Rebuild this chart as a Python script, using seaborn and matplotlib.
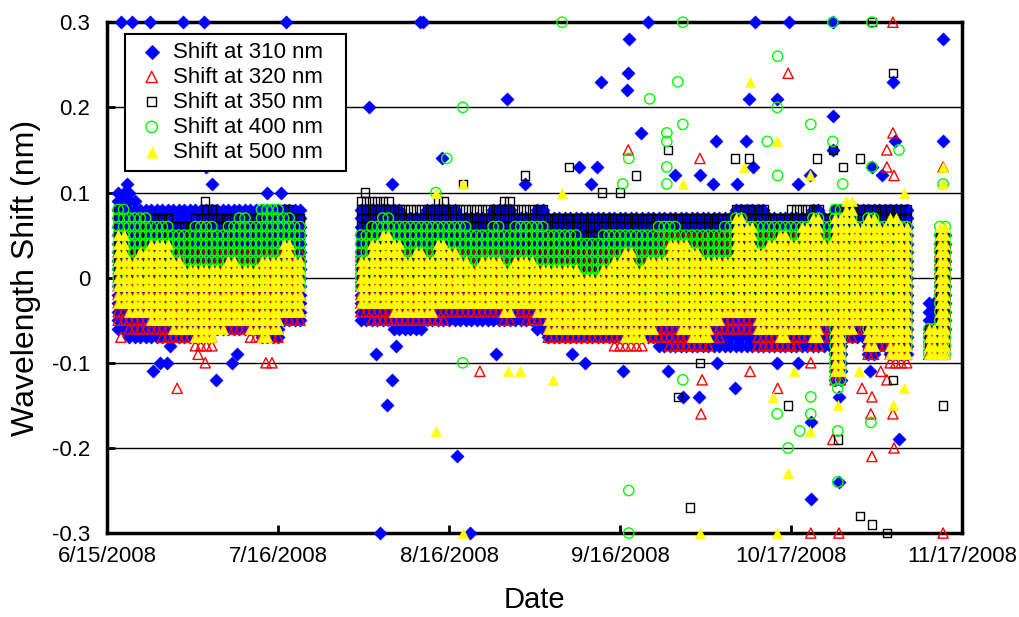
import numpy as np
import pandas as pd
import matplotlib
matplotlib.use('Agg')
import matplotlib.pyplot as plt
import seaborn as sns

# --- data (values in hundredths of nm for the dense bands) ---
start_date = '6/15/2008'
x_labels = ['6/15/2008', '7/16/2008', '8/16/2008', '9/16/2008', '10/17/2008', '11/17/2008']
y_labels = ['-0.3', '-0.2', '-0.1', '0', '0.1', '0.2', '0.3']

# start day (days after 6/15/2008) of each two-day bin of readings
bin_days = [2, 4, 6, 8, 10, 12, 14, 16, 18, 20, 22, 24, 26, 28, 30, 32, 34,
            46, 48, 50, 52, 54, 56, 58, 60, 62, 64, 66, 68, 70, 72, 74, 76, 78,
            80, 82, 84, 86, 88, 90, 92, 94, 96, 98,
            100, 102, 104, 106, 108, 110, 112, 114, 116, 118, 120, 122, 124, 126, 128, 130,
            132, 134, 136, 138, 140, 142, 144,
            149, 151]

# Shift at 310 nm
blue_hi = [10, 9, 8, 8, 8, 8, 8, 8, 8, 8, 8, 8, 8, 8, 8, 8, 8,
           8, 8, 8, 8, 7, 7, 8, 8, 8, 7, 7, 7, 8, 8, 7, 7, 8,
           7, 7, 7, 7, 7, 7, 7, 7, 7, 7,
           7, 7, 7, 7, 7, 7, 7, 8, 8, 8, 7, 7, 7, 7, 8, 7,
           8, 8, 8, 8, 8, 8, 8,
           -3, 5]
blue_lo = [-6, -7, -7, -7, -7, -7, -7, -7, -6, -6, -6, -6, -6, -7, -7, -5, -5,
           -5, -5, -5, -6, -6, -6, -5, -5, -5, -5, -5, -5, -5, -5, -5, -5, -6,
           -7, -7, -7, -7, -7, -7, -7, -7, -7, -7,
           -8, -8, -8, -8, -8, -8, -8, -8, -8, -8, -8, -8, -8, -8, -8, -8,
           -12, -7, -7, -9, -8, -9, -9,
           -7, -6]
blue_extra = [(2.5, 0.30), (4.5, 0.30), (7.8, 0.30), (13.8, 0.30), (17.6, 0.30), (32.5, 0.30),
              (56.8, 0.30), (57.3, 0.30), (98.1, 0.30), (117.5, 0.30), (123.6, 0.30), (131.6, 0.30),
              (151.6, 0.28), (47.5, 0.20), (72.5, 0.21), (94.6, 0.28), (94.5, 0.24), (89.6, 0.23),
              (94.3, 0.22), (96.8, 0.17), (60.7, 0.14), (85.6, 0.13), (88.8, 0.13), (51.7, 0.11),
              (87.7, 0.11), (75.8, 0.11), (116.4, 0.21), (121.5, 0.21), (131.6, 0.19), (110.4, 0.16),
              (115.8, 0.16), (142.9, 0.16), (151.6, 0.16), (142.5, 0.23), (131.6, 0.15), (138.7, 0.13),
              (140.5, 0.12), (103.0, 0.12), (107.5, 0.12), (109.9, 0.11), (114.2, 0.11), (117.1, 0.13),
              (125.3, 0.11), (127.4, 0.12), (3.6, 0.11), (3.9, 0.10), (18.0, 0.13), (19.0, 0.11),
              (29.0, 0.10), (31.5, 0.10), (8.3, -0.11), (9.6, -0.10), (10.9, -0.10), (11.4, -0.08),
              (19.8, -0.12), (22.7, -0.10), (23.6, -0.09), (48.8, -0.09), (51.7, -0.12), (50.8, -0.15),
              (63.5, -0.21), (49.5, -0.30), (65.8, -0.30), (70.5, -0.09), (84.3, -0.09), (86.7, -0.10),
              (93.5, -0.11), (101.7, -0.11), (104.4, -0.14), (107.3, -0.14), (110.6, -0.10),
              (113.9, -0.13), (121.5, -0.10), (125.3, -0.10), (127.6, -0.17), (132.7, -0.14),
              (132.7, -0.24), (127.6, -0.26), (143.6, -0.19), (138.3, -0.11), (52.4, -0.08)]

# Shift at 320 nm
red_hi = [3] * 17 + [3] * 17 + [3] * 10 + [5] * 16 + [5] * 7 + [-6, 4]
red_lo = [-5, -6, -6, -6, -7, -7, -7, -8, -8, -6, -6, -6, -7, -7, -7, -5, -5,
          -4, -5, -5, -5, -5, -5, -5, -5, -4, -4, -4, -4, -4, -5, -4, -5, -5,
          -7, -7, -7, -7, -7, -7, -8, -8, -8, -7,
          -7, -8, -8, -8, -8, -7, -6, -6, -6, -8, -8, -8, -8, -7, -8, -7,
          -12, -7, -6, -9, -8, -10, -10,
          -9, -9]
red_extra = [(2.5, -0.07), (12.7, -0.13), (16.5, -0.09), (17.8, -0.10), (28.8, -0.10), (29.9, -0.10),
             (67.6, -0.11), (94.5, 0.15), (142.5, 0.30), (123.5, 0.24), (142.5, 0.17), (141.4, 0.15),
             (141.4, 0.13), (142.7, 0.12), (107.5, 0.14), (151.6, 0.13), (116.6, -0.11), (121.6, -0.13),
             (107.7, -0.16), (107.9, -0.12), (127.6, -0.10), (136.9, -0.13), (138.7, -0.14),
             (138.5, -0.16), (142.7, -0.20), (138.7, -0.21), (127.6, -0.30), (132.7, -0.30),
             (151.6, -0.30), (131.6, -0.19), (141.4, -0.12), (140.3, -0.11), (142.5, -0.16)]

# Shift at 350 nm
black_hi = [8, 7, 7, 7, 7, 6, 6, 7, 8, 7, 7, 7, 7, 7, 7, 8, 7,
            9, 9, 9, 8, 8, 8, 8, 9, 8, 8, 8, 8, 8, 9, 8, 8, 8,
            7, 7, 7, 7, 7, 7, 7, 7, 7, 7,
            7, 7, 7, 7, 7, 7, 7, 8, 8, 8, 7, 7, 8, 8, 8, 7,
            8, 8, 8, 8, 8, 8, 8,
            -6, 5]
black_lo = [0] * 17 + [0] * 17 + [-1] * 10 + \
           [-3, -4, -4, -5, -5, -4, -3, -3, -3, -4, -4, -4, -4, -5, -5, -4,
            -10, -4, -4, -6, -5, -7, -8,
            -8, -8]
black_extra = [(17.8, 0.09), (46.8, 0.10), (83.8, 0.13), (75.8, 0.12), (95.9, 0.12), (89.7, 0.10),
               (93.0, 0.10), (64.5, 0.11), (101.7, 0.15), (113.9, 0.14), (142.5, 0.24), (138.7, 0.30),
               (116.4, 0.14), (128.7, 0.14), (133.4, 0.13), (136.5, 0.14), (131.6, 0.15), (105.7, -0.27),
               (136.5, -0.28), (138.7, -0.29), (141.4, -0.30), (151.6, -0.15), (132.5, -0.19),
               (142.5, -0.12), (123.5, -0.15), (103.5, -0.14), (107.5, -0.10)]

# Shift at 400 nm
green_hi = [8, 7, 7, 6, 6, 5, 5, 6, 6, 5, 6, 7, 6, 8, 8, 7, 6,
            5, 6, 7, 6, 6, 6, 6, 6, 6, 6, 5, 5, 6, 5, 6, 6, 6,
            5, 5, 5, 4, 4, 5, 5, 5, 5, 5,
            6, 6, 5, 5, 5, 5, 6, 7, 6, 6, 6, 6, 6, 6, 7, 6,
            8, 7, 6, 7, 6, 6, 6,
            -6, 6]
green_lo = [-1] * 17 + [-1] * 17 + [-2] * 10 + \
           [-3, -4, -4, -5, -5, -4, -3, -3, -3, -4, -4, -4, -4, -5, -5, -4,
            -12, -4, -4, -6, -5, -7, -8,
            -9, -9]
green_extra = [(82.5, 0.30), (64.5, 0.20), (61.6, 0.14), (94.6, 0.14), (98.4, 0.21), (93.5, 0.11),
               (59.6, 0.10), (104.4, 0.30), (131.6, 0.30), (138.7, 0.30), (121.6, 0.26), (103.5, 0.23),
               (121.5, 0.20), (104.4, 0.18), (101.5, 0.17), (101.5, 0.16), (127.6, 0.18), (119.7, 0.16),
               (131.6, 0.16), (143.6, 0.15), (101.5, 0.13), (138.7, 0.13), (121.6, 0.12), (133.4, 0.11),
               (101.5, 0.11), (151.6, 0.11), (64.5, -0.10), (94.6, -0.25), (94.6, -0.30), (104.4, -0.12),
               (121.5, -0.16), (127.6, -0.14), (127.6, -0.16), (125.6, -0.18), (123.5, -0.20),
               (132.5, -0.18), (132.5, -0.13), (138.5, -0.17), (132.5, -0.24)]

# Shift at 500 nm
yellow_hi = [5, 2, 3, 4, 4, 2, 1, 1, 1, 1, 2, 1, 1, 2, 2, 4, 2,
             2, 4, 5, 4, 2, 3, 2, 4, 3, 2, 1, 2, 2, 1, 2, 2, 1,
             1, 1, 1, 0, 0, 1, 2, 3, 1, 2,
             2, 4, 4, 3, 2, 2, 2, 7, 6, 3, 4, 5, 4, 6, 7, 4,
             7, 9, 6, 7, 6, 7, 6,
             -6, 6]
yellow_lo = [-3, -4, -4, -5, -5, -6, -6, -7, -7, -6, -5, -5, -6, -7, -6, -4, -4,
             -3, -3, -3, -4, -4, -4, -4, -3, -3, -3, -3, -3, -3, -4, -3, -3, -4,
             -6, -6, -6, -6, -6, -6, -6, -7, -7, -6,
             -5, -5, -6, -7, -7, -5, -4, -4, -4, -6, -6, -7, -6, -6, -7, -5,
             -11, -6, -5, -8, -7, -9, -9,
             -9, -9]
yellow_extra = [(64.5, 0.11), (82.5, 0.10), (59.6, 0.10), (116.6, 0.23), (121.5, 0.16), (115.5, 0.13),
                (127.4, 0.12), (104.4, 0.11), (151.6, 0.13), (151.6, 0.11), (144.5, 0.10), (59.6, -0.18),
                (72.7, -0.11), (74.9, -0.11), (80.9, -0.12), (64.5, -0.30), (107.5, -0.30),
                (121.5, -0.30), (123.5, -0.23), (120.7, -0.14), (127.4, -0.18), (124.5, -0.11),
                (136.3, -0.11), (142.5, -0.15), (144.5, -0.13), (132.5, -0.15)]

# one reading per day inside each two-day bin
readings = [0.0, 1.0]


def build_series(lo, hi, extra):
    """ every 0.01 nm level seen in a bin, plus the scattered readings """
    days, vals = [], []
    for d, a, b in zip(bin_days, lo, hi):
        for level in range(a, b + 1):
            for t in readings:
                days.append(d + t)
                vals.append(level / 100)
    for d, v in extra:
        days.append(d)
        vals.append(v)
    t0 = pd.to_datetime(start_date, format='%m/%d/%Y')
    return pd.DataFrame({'Date': t0 + pd.to_timedelta(days, unit='D'), 'Shift': vals})


series = [
    ('Shift at 310 nm', build_series(blue_lo, blue_hi, blue_extra),
     dict(marker='D', s=46, color='#0000FF', edgecolor='#0000FF', linewidth=0.3)),
    ('Shift at 320 nm', build_series(red_lo, red_hi, red_extra),
     dict(marker='^', s=54, color='#FF0000', facecolor='none', edgecolor='#FF0000', linewidth=1.0)),
    ('Shift at 350 nm', build_series(black_lo, black_hi, black_extra),
     dict(marker='s', s=36, color='black', facecolor='none', edgecolor='black', linewidth=1.0)),
    ('Shift at 400 nm', build_series(green_lo, green_hi, green_extra),
     dict(marker='o', s=55, color='#00FF00', facecolor='none', edgecolor='#00FF00', linewidth=1.0)),
    ('Shift at 500 nm', build_series(yellow_lo, yellow_hi, yellow_extra),
     dict(marker='^', s=56, color='#FFFF00', edgecolor='#FFFF00', linewidth=0.3)),
]

sns.set_style('white')
plt.rcParams['font.family'] = ['Liberation Sans', 'DejaVu Sans']
plt.rcParams['axes.unicode_minus'] = False
plt.rcParams['text.color'] = 'black'
plt.rcParams['axes.labelcolor'] = 'black'

fig = plt.figure(figsize=(10.2, 6.17), dpi=100)
ax = fig.add_axes([0.105, 0.136, 0.838, 0.828])

for name, df, style in series:
    sns.scatterplot(data=df, x='Date', y='Shift', ax=ax, label=name, clip_on=False, zorder=3, **style)

x_ticks = pd.to_datetime(x_labels, format='%m/%d/%Y')
ax.set_xlim(x_ticks[0], x_ticks[-1])
ax.set_xticks(x_ticks)
ax.set_xticklabels(x_labels)
y_ticks = [float(v) for v in y_labels]
ax.set_ylim(y_ticks[0], y_ticks[-1])
ax.set_yticks(y_ticks)
ax.set_yticklabels(y_labels)

ax.yaxis.grid(True, color='black', linewidth=1.0, zorder=0)
ax.xaxis.grid(False)
ax.set_axisbelow(True)
for sp in ax.spines.values():
    sp.set_color('black')
    sp.set_linewidth(2.5)
    sp.set_zorder(2.5)
ax.tick_params(axis='both', direction='in', length=6, width=2, labelsize=16,
               left=True, bottom=True, colors='black', labelcolor='black')
ax.tick_params(axis='y', pad=12)
ax.tick_params(axis='x', pad=9)

ax.set_xlabel('Date', fontsize=21, labelpad=14)
ax.set_ylabel('Wavelength Shift (nm)', fontsize=23, labelpad=8)

leg = ax.legend(loc='upper left', bbox_to_anchor=(0.021, 0.70, 0.2585, 0.277), mode='expand',
                fontsize=16, frameon=True, fancybox=False, edgecolor='black', framealpha=1,
                borderpad=0.35, labelspacing=0.18, handletextpad=0.1, handlelength=1.7,
                markerscale=1.1, borderaxespad=0)
leg.get_frame().set_linewidth(1.5)
leg.set_zorder(5)

fig.savefig('out.png', dpi=100)
